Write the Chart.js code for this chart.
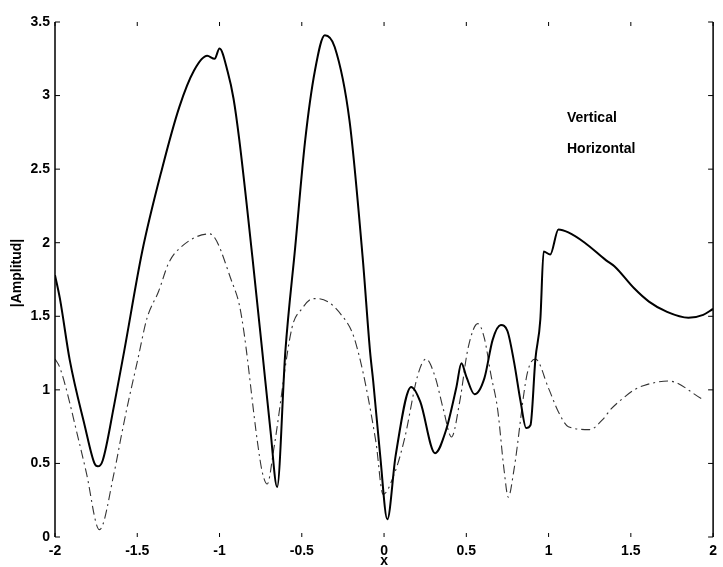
<!DOCTYPE html>
<html>
<head>
<meta charset="utf-8">
<script src="https://cdn.jsdelivr.net/npm/chart.js@4/dist/chart.umd.min.js"></script>
<style>
  html, body { margin: 0; padding: 0; background: #fff; }
  #wrap { width: 723px; height: 567px; }
</style>
</head>
<body>
<div id="wrap"><canvas id="chart"></canvas></div>
<script>
// amplitude traces, [x, |A|]
const verticalX = [-2.0, -1.97, -1.91, -1.82, -1.76, -1.74, -1.71, -1.64, -1.58, -1.47, -1.35, -1.245,
  -1.155, -1.075, -1.03, -1.0, -0.95, -0.915, -0.88, -0.80, -0.74, -0.69, -0.65, -0.60, -0.54, -0.48,
  -0.42, -0.36, -0.30, -0.21, -0.13, -0.085, -0.066, -0.024, 0.02, 0.07, 0.165, 0.22, 0.31, 0.375,
  0.44, 0.47, 0.50, 0.55, 0.61, 0.66, 0.71, 0.75, 0.79, 0.83, 0.864, 0.89, 0.92, 0.95, 0.97, 1.01,
  1.06, 1.12, 1.22, 1.35, 1.40, 1.52, 1.61, 1.72, 1.85, 1.94, 2.0];
const verticalY = [1.78, 1.62, 1.20, 0.76, 0.50, 0.48, 0.52, 0.90, 1.26, 1.94, 2.50, 2.92,
  3.17, 3.27, 3.25, 3.32, 3.16, 2.98, 2.70, 1.90, 1.26, 0.72, 0.34, 1.26, 1.97, 2.69,
  3.17, 3.41, 3.33, 2.83, 1.90, 1.26, 1.06, 0.56, 0.12, 0.55, 1.02, 0.92, 0.57, 0.72,
  1.02, 1.18, 1.09, 0.97, 1.08, 1.34, 1.44, 1.40, 1.19, 0.92, 0.74, 0.76, 1.21, 1.48, 1.94, 1.92,
  2.09, 2.07, 2.00, 1.88, 1.84, 1.69, 1.60, 1.53, 1.49, 1.51, 1.55];

const horizontalX = [-2.0, -1.97, -1.85, -1.81, -1.73, -1.64, -1.60, -1.56, -1.50, -1.44, -1.37, -1.31,
  -1.245, -1.06, -0.92, -0.88, -0.85, -0.77, -0.74, -0.71, -0.67, -0.56, -0.50, -0.43, -0.40, -0.26,
  -0.175, -0.05, -0.006, 0.066, 0.125, 0.205, 0.255, 0.31, 0.36, 0.41, 0.46, 0.51, 0.57, 0.61, 0.65,
  0.69, 0.73, 0.755, 0.79, 0.87, 0.92, 1.00, 1.06, 1.12, 1.25, 1.33, 1.38, 1.46, 1.52, 1.58, 1.73, 1.93];
const horizontalY = [1.21, 1.15, 0.63, 0.44, 0.05, 0.44, 0.67, 0.89, 1.19, 1.49, 1.67, 1.86,
  1.96, 2.06, 1.72, 1.58, 1.38, 0.65, 0.44, 0.36, 0.60, 1.42, 1.55, 1.62, 1.62, 1.51,
  1.33, 0.65, 0.29, 0.44, 0.67, 1.10, 1.21, 1.09, 0.87, 0.68, 0.92, 1.28, 1.45, 1.35, 1.10,
  0.87, 0.45, 0.27, 0.46, 1.11, 1.21, 1.01, 0.85, 0.75, 0.73, 0.80, 0.87, 0.95, 1.00, 1.03, 1.06, 0.94];

const seriesNames = ['Vertical', 'Horizontal'];
const xTicks = [-2, -1.5, -1, -0.5, 0, 0.5, 1, 1.5, 2];
const yTicks = [0, 0.5, 1, 1.5, 2, 2.5, 3, 3.5];

const toPoints = (xs, ys) => xs.map((x, i) => ({ x, y: ys[i] }));
const FONT = 'Liberation Sans, Arial, sans-serif';

// box edges, tick marks, axis titles and the text legend
const frame = {
  id: 'frame',
  afterDraw(chart) {
    const { ctx, chartArea: a, scales } = chart;
    ctx.save();
    ctx.strokeStyle = '#000';
    ctx.lineWidth = 1.5;
    ctx.beginPath();
    ctx.moveTo(a.left, a.top); ctx.lineTo(a.left, a.bottom);
    ctx.moveTo(a.right, a.top); ctx.lineTo(a.right, a.bottom);
    ctx.stroke();

    ctx.lineWidth = 1;
    ctx.beginPath();
    yTicks.forEach(v => {
      const py = scales.y.getPixelForValue(v);
      ctx.moveTo(a.left, py); ctx.lineTo(a.left + 5, py);
      ctx.moveTo(a.right, py); ctx.lineTo(a.right - 5, py);
    });
    xTicks.forEach(v => {
      const px = scales.x.getPixelForValue(v);
      ctx.moveTo(px, a.bottom); ctx.lineTo(px, a.bottom - 4);
      ctx.moveTo(px, a.top); ctx.lineTo(px, a.top + 4);
    });
    ctx.stroke();

    ctx.fillStyle = '#000';
    ctx.font = 'bold 14px ' + FONT;
    ctx.textAlign = 'center';
    ctx.textBaseline = 'middle';
    ctx.fillText('x', scales.x.getPixelForValue(0), 561);

    ctx.save();
    ctx.translate(17, 273);
    ctx.rotate(-Math.PI / 2);
    ctx.fillText('|Amplitud|', 0, 0);
    ctx.restore();

    ctx.textAlign = 'left';
    ctx.fillText(seriesNames[0], 567, 118);
    ctx.fillText(seriesNames[1], 567, 149);
    ctx.restore();
  }
};

new Chart(document.getElementById('chart'), {
  type: 'line',
  data: {
    datasets: [
      {
        label: seriesNames[0],
        data: toPoints(verticalX, verticalY),
        borderColor: '#000',
        borderWidth: 2,
        pointRadius: 0,
        cubicInterpolationMode: 'monotone',
      },
      {
        label: seriesNames[1],
        data: toPoints(horizontalX, horizontalY),
        borderColor: '#333',
        borderWidth: 1.1,
        borderDash: [9, 4, 2, 4],
        pointRadius: 0,
        cubicInterpolationMode: 'monotone',
      },
    ],
  },
  options: {
    responsive: true,
    maintainAspectRatio: false,
    animation: false,
    layout: { padding: { left: 0, right: 6, top: 22, bottom: 0 } },
    plugins: { legend: { display: false }, tooltip: { enabled: false } },
    scales: {
      x: {
        type: 'linear',
        min: -2,
        max: 2,
        afterFit: s => { s.height = 30; },
        afterBuildTicks: s => { s.ticks = xTicks.map(v => ({ value: v })); },
        grid: { display: false, drawTicks: false },
        border: { display: false },
        ticks: {
          padding: 6,
          autoSkip: false,
          maxRotation: 0,
          color: '#000',
          font: { family: FONT, size: 14, weight: 'bold' },
          callback: v => String(v),
        },
      },
      y: {
        min: 0,
        max: 3.5,
        afterFit: s => { s.width = 55; },
        afterBuildTicks: s => { s.ticks = yTicks.map(v => ({ value: v })); },
        grid: { display: false, drawTicks: false },
        border: { display: false },
        ticks: {
          padding: 5,
          autoSkip: false,
          color: '#000',
          font: { family: FONT, size: 14, weight: 'bold' },
          callback: v => String(v),
        },
      },
    },
  },
  plugins: [frame],
});
</script>
</body>
</html>
